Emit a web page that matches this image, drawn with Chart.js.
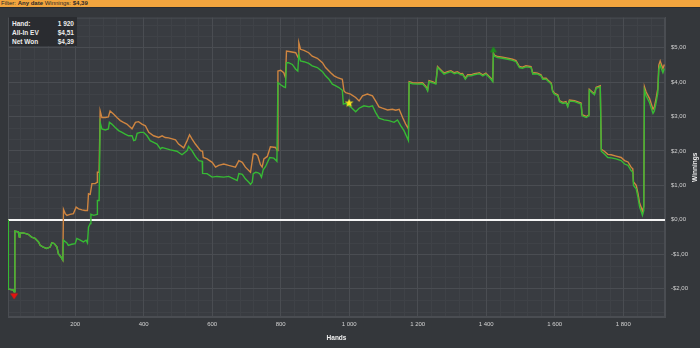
<!DOCTYPE html>
<html>
<head>
<meta charset="utf-8">
<script src="https://cdn.jsdelivr.net/npm/chart.js@4.4.1/dist/chart.umd.min.js"></script>
<style>
  body { margin: 0; width: 700px; height: 348px; overflow: hidden; position: relative; background: #34373b; font-family: "Liberation Sans", Arial, sans-serif; }
  #bar { position: absolute; left: 0; top: 0; width: 700px; height: 7px; background: #f2a53e; border-bottom: 1px solid #2b2c2e; color: #2a2a2a; font-size: 6px; line-height: 7px; padding-left: 1px; white-space: nowrap; }
  #wrap { position: absolute; left: 0; top: 8px; width: 700px; height: 340px; }
  #info { position: absolute; left: 9px; top: 17px; width: 68px; height: 29px; background: #2a2c30; color: #ececec; font-size: 6.5px; font-weight: bold; }
  #info .row { position: absolute; left: 3px; right: 3px; height: 8px; line-height: 8px; }
  #info .row span { float: right; }
</style>
</head>
<body>
<div id="bar">Filter: <b>Any date</b> Winnings: <b>$4,39</b></div>
<div id="wrap"><canvas id="grafico"></canvas></div>
<div id="info">
  <div class="row" style="top:3px">Hand:<span>1 920</span></div>
  <div class="row" style="top:12px">All-In EV<span>$4,51</span></div>
  <div class="row" style="top:20.5px">Net Won<span>$4,39</span></div>
</div>
<script>
// dados (maos, ganhos em $)
const wonHands = [4,5,20,22,24,34,37,39,49,63,73,83,93,98,107,117,127,132,139,147,151,158,164,166,176,180,190,200,205,215,224,232,236,239,244,246,254,264,265,270,273,278,288,297,300,307,317,327,337,346,356,366,371,376,381,390,400,410,419,429,439,449,454,458,468,478,497,512,527,531,541,551,561,571,572,585,600,614,634,648,663,673,678,688,697,707,712,717,720,727,733,739,744,749,756,768,780,789,792,800,809,814,817,823,834,844,850,853,858,868,882,892,907,922,931,941,951,961,970,980,983,990,1004,1019,1029,1043,1058,1068,1077,1087,1102,1116,1131,1141,1151,1160,1173,1175,1185,1199,1214,1224,1229,1233,1243,1253,1258,1268,1277,1287,1297,1307,1316,1326,1331,1339,1346,1356,1365,1375,1380,1390,1399,1414,1419,1421,1424,1433,1448,1463,1477,1487,1497,1506,1516,1531,1536,1541,1550,1560,1565,1575,1580,1590,1594,1599,1609,1614,1624,1633,1638,1643,1658,1677,1680,1692,1700,1701,1709,1716,1721,1733,1736,1745,1755,1765,1779,1794,1804,1814,1823,1828,1830,1838,1843,1848,1853,1856,1860,1862,1867,1877,1882,1887,1891,1896,1901,1904,1908,1911,1916,1920]
const wonValues = [0,-2.01,-2.04,-2.09,-0.33,-0.35,-0.50,-0.38,-0.38,-0.42,-0.50,-0.54,-0.64,-0.74,-0.79,-0.83,-0.79,-0.67,-0.69,-0.79,-0.98,-1.07,-1.17,-0.59,-0.67,-0.74,-0.71,-0.69,-0.54,-0.59,-0.64,-0.59,-0.67,-0.21,-0.11,0.16,0.13,0.16,0.56,0.56,2.83,2.64,2.61,2.64,2.83,2.78,2.68,2.59,2.54,2.49,2.44,2.44,2.30,2.32,2.51,2.54,2.54,2.44,2.30,2.25,2.20,2.06,2.10,2.09,2.06,2.03,1.99,1.89,2.01,2.13,2.01,1.84,1.72,1.70,1.35,1.34,1.24,1.26,1.24,1.26,1.19,1.14,1.34,1.32,1.19,1.09,1.03,1.09,1.34,1.38,1.37,1.34,1.24,1.45,1.55,1.81,1.79,1.70,3.98,3.92,3.86,3.84,4.56,4.56,4.51,4.37,4.32,4.78,4.61,4.59,4.54,4.47,4.42,4.30,4.18,4.08,3.94,3.89,3.84,3.76,3.36,3.38,3.28,3.14,3.24,3.31,3.28,3.31,3.12,2.95,2.90,2.88,2.83,2.90,2.73,2.59,2.30,3.98,3.95,3.94,3.95,3.84,3.74,4.01,3.98,3.94,4.42,4.32,4.23,4.27,4.30,4.24,4.27,4.21,4.22,4.08,4.18,4.18,4.21,4.23,4.24,4.18,4.23,4.08,4.01,4.82,4.75,4.71,4.69,4.66,4.63,4.59,4.42,4.40,4.44,4.42,4.23,4.24,4.23,4.18,4.08,4.08,4.03,3.94,3.72,3.65,3.60,3.43,3.38,3.40,3.28,3.45,3.43,3.36,3.02,2.97,3.02,3.76,3.69,3.63,3.82,3.86,1.99,1.91,1.81,1.80,1.77,1.72,1.62,1.58,1.43,1.38,1.00,0.90,0.66,0.37,0.23,0.13,0.27,3.76,3.60,3.40,3.24,3.09,3.16,3.40,3.69,4.37,4.49,4.40,4.27,4.39]

const evHands = [4,5,20,22,24,34,37,39,49,63,73,83,93,98,107,117,127,132,139,147,151,158,164,166,171,176,185,195,203,210,220,229,236,239,244,249,259,264,265,270,273,278,288,297,302,312,322,332,341,351,366,376,385,395,405,415,429,444,454,463,473,493,502,517,527,534,541,551,566,572,574,585,600,610,619,634,648,668,678,688,697,712,720,727,733,741,746,751,761,770,785,790,792,800,809,814,817,829,844,851,853,858,868,882,892,907,922,931,946,956,966,980,985,990,1004,1019,1029,1039,1053,1068,1077,1087,1097,1112,1126,1136,1146,1156,1165,1173,1175,1185,1199,1214,1224,1229,1233,1243,1253,1258,1268,1277,1287,1297,1307,1316,1326,1331,1339,1346,1356,1365,1375,1380,1390,1399,1414,1419,1421,1424,1433,1448,1463,1477,1487,1497,1506,1516,1531,1536,1541,1550,1560,1565,1575,1580,1590,1594,1599,1609,1614,1624,1633,1638,1643,1658,1677,1680,1692,1700,1701,1709,1716,1721,1733,1736,1745,1755,1765,1779,1794,1804,1814,1823,1828,1830,1838,1843,1848,1853,1856,1860,1862,1867,1877,1882,1887,1891,1896,1901,1904,1908,1911,1916,1920]
const evValues = [0,-2.01,-2.04,-2.09,-0.33,-0.35,-0.50,-0.38,-0.38,-0.42,-0.50,-0.54,-0.64,-0.74,-0.79,-0.83,-0.79,-0.67,-0.69,-0.79,-0.98,-1.07,-1.17,0.30,0.18,0.13,0.16,0.18,0.37,0.32,0.29,0.27,0.27,0.76,0.74,1.05,1.05,1.09,1.38,1.38,3.16,2.97,2.97,2.99,3.16,3.07,2.97,2.88,2.83,2.78,2.64,2.83,2.85,2.78,2.73,2.54,2.44,2.39,2.44,2.39,2.38,2.32,2.20,2.09,2.30,2.47,2.35,2.20,2.01,1.99,1.81,1.77,1.67,1.53,1.58,1.62,1.58,1.53,1.72,1.67,1.53,1.38,1.91,1.91,1.86,1.60,1.53,1.77,1.84,2.12,2.10,2.01,4.32,4.34,4.27,4.13,4.90,4.88,4.85,4.71,5.14,4.95,4.92,4.85,4.75,4.69,4.56,4.42,4.27,4.18,4.13,4.08,3.74,3.69,3.65,3.55,3.45,3.60,3.65,3.60,3.45,3.28,3.24,3.19,3.21,3.18,3.21,2.97,2.78,2.64,4.01,3.98,3.97,3.98,3.87,3.77,4.04,4.01,3.97,4.45,4.35,4.26,4.30,4.33,4.27,4.30,4.24,4.25,4.11,4.21,4.21,4.24,4.26,4.27,4.21,4.26,4.11,4.04,4.84,4.78,4.74,4.72,4.69,4.66,4.62,4.45,4.43,4.47,4.45,4.26,4.27,4.26,4.21,4.11,4.11,4.06,3.97,3.75,3.68,3.63,3.46,3.41,3.43,3.31,3.48,3.46,3.39,3.05,3.00,3.05,3.79,3.72,3.66,3.85,3.89,2.05,1.99,1.90,1.89,1.85,1.81,1.72,1.68,1.53,1.48,1.10,1.00,0.77,0.48,0.35,0.25,0.38,3.86,3.71,3.52,3.36,3.21,3.28,3.52,3.81,4.49,4.61,4.52,4.39,4.51]

const handTicks = [200,400,600,800,1000,1200,1400,1600,1800]
const moneyTicks = [-2,-1,0,1,2,3,4,5]

// marcadores: [mao, valor]
const lowMark = [22, -2.09]
const highMark = [1421, 4.82]
const starMark = [1000, 3.30]

const fonte = '"Liberation Sans", Arial, sans-serif'
const corGrade = '#4a4d52'
const corGradeMenor = '#3f4247'

function formatMoney(v) {
  let s = Math.abs(v).toFixed(2).replace('.', ',')
  return (v < 0 ? '-$' : '$') + s
}
function formatHands(v) {
  return String(v).replace(/\B(?=(\d{3})+(?!\d))/g, ' ')
}

function markImage(w, h, draw) {
  let c = document.createElement('canvas')
  c.width = w
  c.height = h
  draw(c.getContext('2d'))
  return c
}

let trianguloBaixo = markImage(10, 20, function (ctx) {
  ctx.fillStyle = '#e4140f'
  ctx.beginPath()
  ctx.moveTo(1, 11.5); ctx.lineTo(9, 11.5); ctx.lineTo(5, 17.5)
  ctx.closePath()
  ctx.fill()
})
let trianguloCima = markImage(10, 20, function (ctx) {
  ctx.fillStyle = '#1c8f1c'
  ctx.beginPath()
  ctx.moveTo(1.5, 8.5); ctx.lineTo(8.5, 8.5); ctx.lineTo(5, 2.5)
  ctx.closePath()
  ctx.fill()
})
let estrela = markImage(12, 18, function (ctx) {
  ctx.fillStyle = '#f4e21c'
  ctx.beginPath()
  for (let i = 0; i < 10; i++) {
    let r = i % 2 == 0 ? 4.6 : 2
    let a = -Math.PI / 2 + i * Math.PI / 5
    ctx.lineTo(6 + r * Math.cos(a), 6 + r * Math.sin(a))
  }
  ctx.closePath()
  ctx.fill()
})

// fundo da area do grafico e grade secundaria
const fundoPlugin = {
  id: 'fundo',
  beforeDraw(chart) {
    let ctx = chart.ctx
    let a = chart.chartArea
    let x = chart.scales.x
    let y = chart.scales.y
    ctx.save()
    ctx.fillStyle = '#393c41'
    ctx.fillRect(a.left, a.top, a.right - a.left, a.bottom - a.top)
    ctx.strokeStyle = corGradeMenor
    ctx.lineWidth = 1
    ctx.beginPath()
    for (let h = 40; h < 1922; h += 40) {
      if (h % 200 == 0) continue
      let px = Math.round(x.getPixelForValue(h)) + 0.5
      ctx.moveTo(px, a.top); ctx.lineTo(px, a.bottom)
    }
    for (let k = -8; k <= 17; k++) {
      if (k % 3 == 0) continue
      let v = k / 3
      if (v < y.min || v > y.max) continue
      let py = Math.round(y.getPixelForValue(v)) + 0.5
      ctx.moveTo(a.left, py); ctx.lineTo(a.right, py)
    }
    ctx.stroke()
    ctx.strokeStyle = corGrade
    ctx.strokeRect(a.left + 0.5, a.top + 0.5, a.right - a.left - 1, a.bottom - a.top - 1)
    ctx.restore()
  },
  afterDraw(chart) {
    let ctx = chart.ctx
    let a = chart.chartArea
    ctx.save()
    ctx.translate(695, (a.top + a.bottom) / 2)
    ctx.rotate(-Math.PI / 2)
    ctx.fillStyle = '#f0f0f0'
    ctx.font = 'bold 6.5px ' + fonte
    ctx.textAlign = 'center'
    ctx.textBaseline = 'middle'
    ctx.fillText('Winnings', 0, 0)
    ctx.restore()
  }
}

function pares(hands, values) {
  return hands.map((h, i) => ({ x: h, y: values[i] }))
}

let ctx = document.getElementById('grafico').getContext('2d')
let grafico = new Chart(ctx, {
  type: 'line',
  data: {
    datasets: [
      { type: 'scatter', data: [{ x: lowMark[0], y: lowMark[1] }], pointStyle: trianguloBaixo, pointRadius: 5 },
      { type: 'scatter', data: [{ x: highMark[0], y: highMark[1] }], pointStyle: trianguloCima, pointRadius: 5 },
      { type: 'scatter', data: [{ x: starMark[0], y: starMark[1] }], pointStyle: estrela, pointRadius: 5 },
      { label: 'Net Won', data: pares(wonHands, wonValues), borderColor: '#36b934', borderWidth: 1.4, pointRadius: 0, tension: 0 },
      { label: 'All-In EV', data: pares(evHands, evValues), borderColor: '#cf8540', borderWidth: 1.4, pointRadius: 0, tension: 0 }
    ]
  },
  options: {
    responsive: true,
    maintainAspectRatio: false,
    animation: false,
    layout: { padding: { left: 8, top: 8.5, right: 0, bottom: 0 } },
    plugins: { legend: { display: false }, tooltip: { enabled: false } },
    scales: {
      x: {
        type: 'linear',
        min: 4,
        max: 1922,
        afterBuildTicks: s => { s.ticks = handTicks.map(v => ({ value: v })) },
        afterFit: s => { s.height = 31 },
        ticks: { color: '#d2d2d2', font: { size: 6, family: fonte }, padding: 4, maxRotation: 0, callback: v => formatHands(v) },
        grid: { color: corGrade, drawTicks: false },
        border: { color: corGrade },
        title: { display: true, text: 'Hands', color: '#f0f0f0', font: { size: 6.5, weight: 'bold', family: fonte }, padding: { top: 0, bottom: 6 } }
      },
      y: {
        position: 'right',
        min: -2.82,
        max: 5.87,
        afterBuildTicks: s => { s.ticks = moneyTicks.map(v => ({ value: v })) },
        afterFit: s => { s.width = 35 },
        ticks: { color: '#d2d2d2', font: { size: 6, family: fonte }, padding: 6, callback: v => formatMoney(v) },
        grid: {
          color: c => c.tick && c.tick.value === 0 ? '#f4f4f4' : corGrade,
          lineWidth: c => c.tick && c.tick.value === 0 ? 2 : 1,
          drawTicks: false
        },
        border: { color: corGrade }
      }
    }
  },
  plugins: [fundoPlugin]
})
</script>
</body>
</html>
